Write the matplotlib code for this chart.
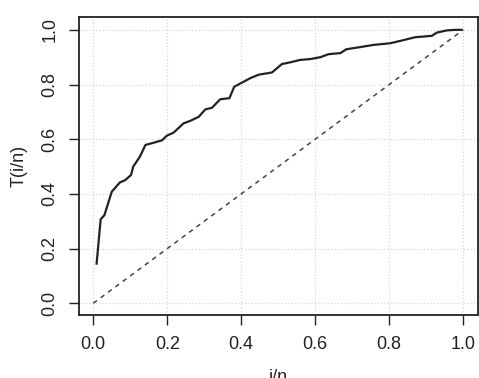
import numpy as np
import matplotlib.pyplot as plt

plt.rcParams['font.family'] = ['Liberation Sans', 'DejaVu Sans']

x_curve = [0.009, 0.020, 0.030, 0.050, 0.072, 0.086, 0.102, 0.108, 0.126, 0.141,
           0.163, 0.186, 0.199, 0.217, 0.244, 0.262, 0.285, 0.303, 0.321, 0.343,
           0.368, 0.381, 0.402, 0.424, 0.447, 0.483, 0.510, 0.532, 0.559, 0.586,
           0.614, 0.636, 0.668, 0.684, 0.722, 0.758, 0.803, 0.834, 0.870, 0.915,
           0.929, 0.956, 0.978, 0.996]
y_curve = [0.145, 0.307, 0.322, 0.408, 0.442, 0.450, 0.469, 0.500, 0.536, 0.579,
           0.587, 0.596, 0.613, 0.624, 0.658, 0.667, 0.682, 0.709, 0.715, 0.746,
           0.750, 0.792, 0.807, 0.823, 0.836, 0.844, 0.875, 0.881, 0.890, 0.893,
           0.900, 0.911, 0.915, 0.929, 0.937, 0.945, 0.951, 0.961, 0.973, 0.978,
           0.990, 0.998, 1.000, 1.000]
diag = [0.0, 1.0]
ticks = [0.0, 0.2, 0.4, 0.6, 0.8, 1.0]

W, H = 479, 378
fig = plt.figure(figsize=(W / 100, H / 100), dpi=100)
ax = fig.add_axes([79 / W, (H - 315) / H, (478 - 79) / W, (315 - 17) / H])

ax.plot(x_curve, y_curve, color='#222222', lw=1.6, zorder=3)
ax.plot(diag, diag, color='#444444', lw=1.1, ls=(0, (3, 3)), zorder=3)

ax.set_xlim(-0.0386, 1.04)
ax.set_ylim(-0.043, 1.047)
ax.set_xticks(ticks)
ax.set_yticks(ticks)
ax.set_xticklabels([f"{t:.1f}" for t in ticks])
ax.set_yticklabels([f"{t:.1f}" for t in ticks], rotation=90, va='center')
ax.grid(True, color='#d8d8d8', ls=':', lw=0.9)
ax.set_axisbelow(True)
ax.tick_params(labelsize=13, length=7, width=1.0, pad=8, color='#222222',
               labelcolor='#222222')
for s in ax.spines.values():
    s.set_linewidth(1.3)
    s.set_color('#222222')

ax.set_xlabel("i/n", fontsize=13, color='#222222', labelpad=12)
ax.set_ylabel("T(i/n)", fontsize=13, color='#222222', labelpad=10)

fig.savefig("out.png", dpi=100)
